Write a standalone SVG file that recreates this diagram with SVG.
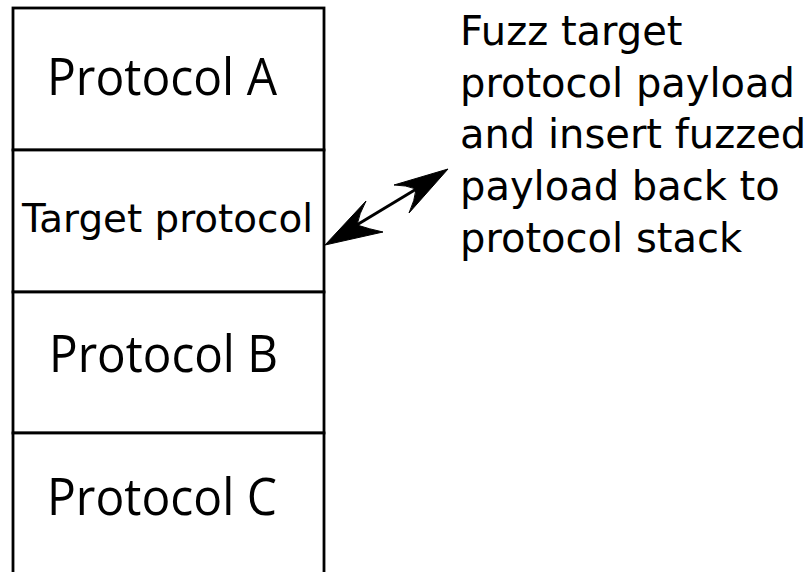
<svg xmlns="http://www.w3.org/2000/svg" width="811" height="572" viewBox="0 0 811 572">
  <style>
    .layer { fill: #ffffff; stroke: #000000; stroke-width: 2.8; }
    .big { font-family: "Open Sans", "Noto Sans", sans-serif; font-size: 52px; fill: #000000; }
    .dv { font-family: "DejaVu Sans", sans-serif; fill: #000000; }
    .note { font-family: "DejaVu Sans", sans-serif; font-size: 40px; fill: #000000; }
    .shaft { stroke: #000000; stroke-width: 3; fill: none; }
    .head { fill: #000000; stroke: #000000; stroke-width: 1; stroke-linejoin: miter; }
  </style>
  <rect width="811" height="572" fill="#ffffff"/>

  <g id="protocol-a">
    <rect class="layer" x="13" y="8" width="311" height="142"/>
    <text class="big" x="47" y="95" textLength="230" lengthAdjust="spacingAndGlyphs">Protocol A</text>
  </g>
  <g id="target-protocol">
    <rect class="layer" x="13" y="150" width="311" height="142"/>
    <text class="dv" x="22" y="232" font-size="38.5" textLength="291" lengthAdjust="spacingAndGlyphs">Target protocol</text>
  </g>
  <g id="protocol-b">
    <rect class="layer" x="13" y="292" width="311" height="141"/>
    <text class="big" x="49" y="372" textLength="229" lengthAdjust="spacingAndGlyphs">Protocol B</text>
  </g>
  <g id="protocol-c">
    <rect class="layer" x="13" y="433" width="311" height="150"/>
    <text class="big" x="47" y="515" textLength="230" lengthAdjust="spacingAndGlyphs">Protocol C</text>
  </g>

  <g id="note">
    <text class="note" x="460" y="45">Fuzz target</text>
    <text class="note" x="460" y="97">protocol payload</text>
    <text class="note" x="460" y="148">and insert fuzzed</text>
    <text class="note" x="460" y="200">payload back to</text>
    <text class="note" x="460" y="252">protocol stack</text>
  </g>

  <g id="connectors">
    <line class="shaft" x1="355" y1="226" x2="418" y2="188"/>
    <!-- barbed heads at both ends of the double arrow -->
    <path class="head" d="M325,245 L366,201 Q359,214 357,225 Q369,229 383,232 Z"/>
    <path class="head" d="M448,169 L409,213 Q415,200 416,189 Q406,185 394,185 Z"/>
  </g>
</svg>
